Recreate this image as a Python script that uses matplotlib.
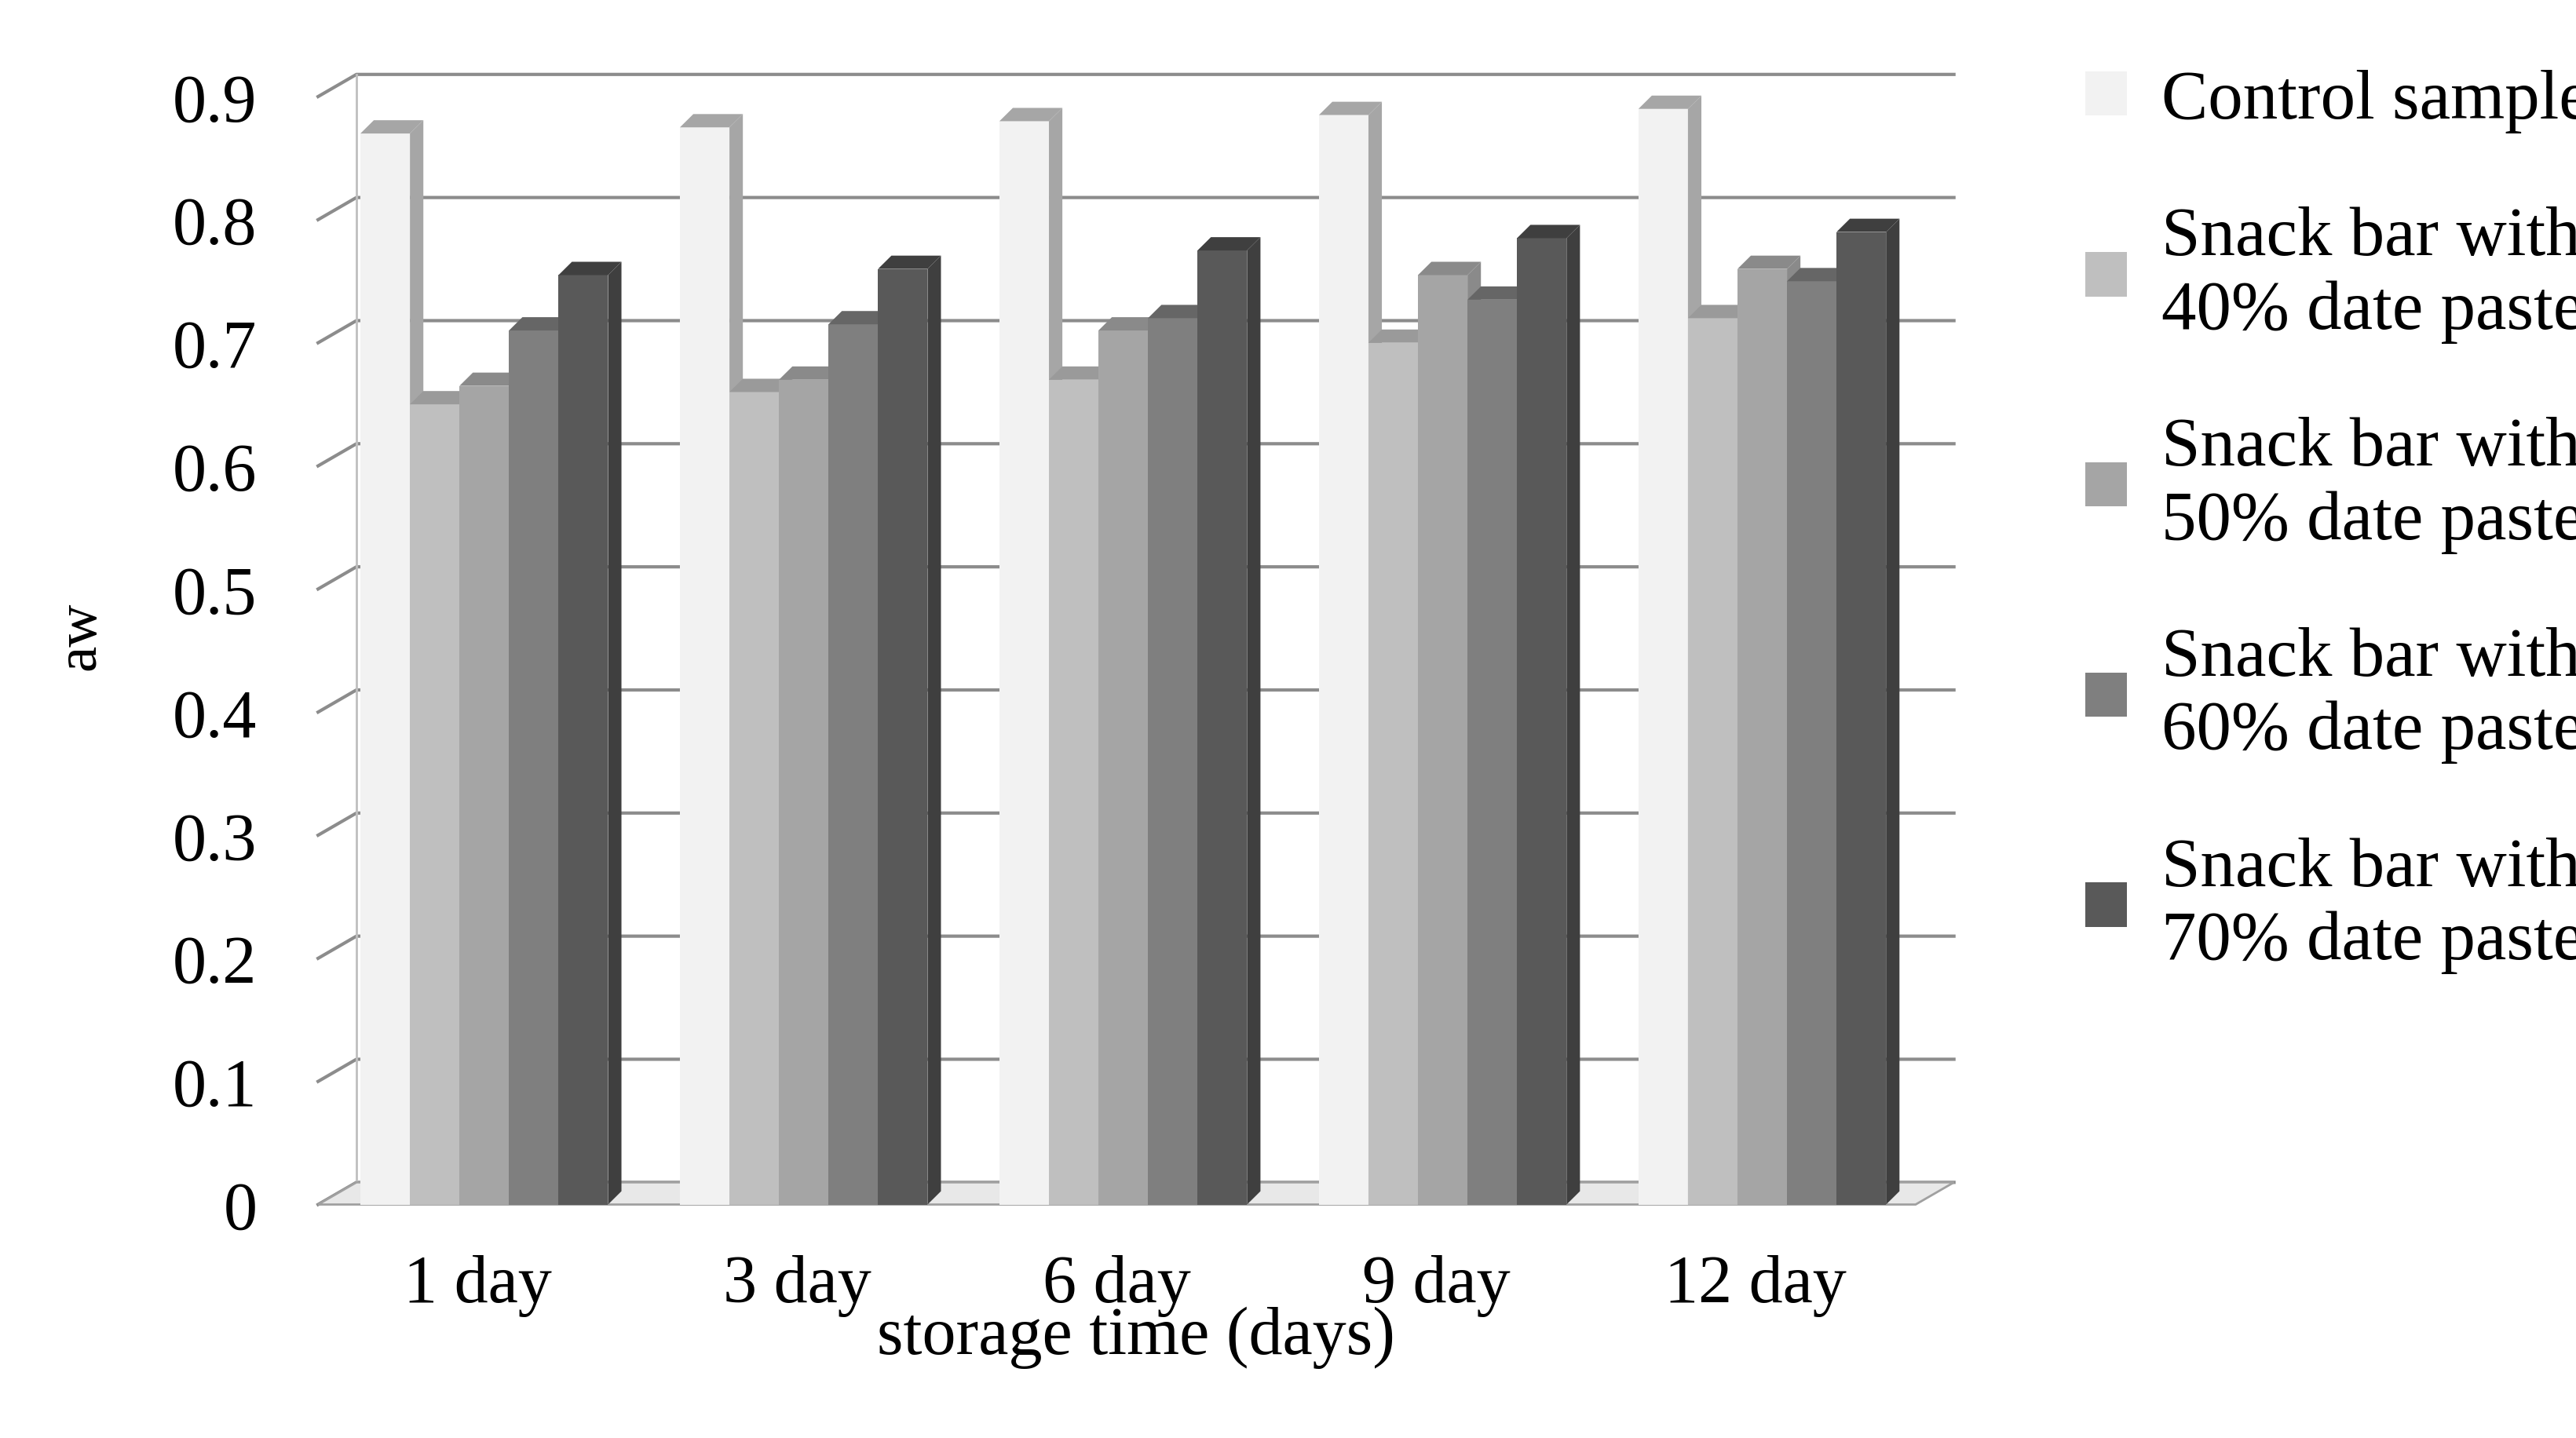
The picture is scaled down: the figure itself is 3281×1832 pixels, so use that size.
import matplotlib
matplotlib.use("Agg")
import matplotlib.pyplot as plt
from matplotlib.patches import Polygon, Rectangle
import numpy as np

categories = ["1 day", "3 day", "6 day", "9 day", "12 day"]
series_names = ["Control sample", "Snack bar with\n40% date paste", "Snack bar with\n50% date paste",
                "Snack bar with\n60% date paste", "Snack bar with\n70% date paste"]
control = [0.87, 0.875, 0.88, 0.885, 0.89]
p40 = [0.65, 0.66, 0.67, 0.70, 0.72]
p50 = [0.665, 0.67, 0.71, 0.755, 0.76]
p60 = [0.71, 0.715, 0.72, 0.735, 0.75]
p70 = [0.755, 0.76, 0.775, 0.785, 0.79]
yticks = [0, 0.1, 0.2, 0.3, 0.4, 0.5, 0.6, 0.7, 0.8, 0.9]
series = [control, p40, p50, p60, p70]
colors = ["#f2f2f2", "#bfbfbf", "#a5a5a5", "#7f7f7f", "#595959"]
sides = ["#a6a6a6", "#9a9a9a", "#8a8a8a", "#666666", "#3f3f3f"]

plt.rcParams['font.family'] = ['Liberation Serif', 'DejaVu Serif']
fig = plt.figure(figsize=(32.81, 18.33), dpi=100)
ax = fig.add_axes([0.121, 0.158, 0.64, 0.80])
dx, dy = 0.12, 0.018
x0, x1 = -0.5, 4.5
for y in yticks:
    ax.plot([x0, x0 + dx, x1 + dx], [y, y + dy, y + dy], color="#8c8c8c", lw=3, zorder=1)
ax.plot([x0 + dx, x0 + dx], [dy, 0.9 + dy], color="#bfbfbf", lw=2, zorder=1)
ax.add_patch(Polygon([(x0, 0), (x0 + dx, dy), (x1 + dx, dy), (x1, 0)], closed=True,
                     facecolor="#e8e8e8", edgecolor="#a0a0a0", lw=2, zorder=1))
w = 0.155
for g in range(len(categories)):
    start = g - 2.5 * w + 0.02
    for s, vals in enumerate(series):
        x = start + s * w
        h = vals[g]
        ax.add_patch(Rectangle((x, 0), w, h, facecolor=colors[s], edgecolor="none", zorder=2))
        ax.add_patch(Polygon([(x + w, 0), (x + w + dx * 0.35, dy * 0.6), (x + w + dx * 0.35, h + dy * 0.6), (x + w, h)],
                             closed=True, facecolor=sides[s], edgecolor="none", zorder=2))
        ax.add_patch(Polygon([(x, h), (x + dx * 0.35, h + dy * 0.6), (x + w + dx * 0.35, h + dy * 0.6), (x + w, h)],
                             closed=True, facecolor=sides[s], edgecolor="none", zorder=2))
ax.set_xlim(x0 - 0.02, x1 + dx + 0.02)
ax.set_ylim(-0.005, 0.93)
for sp in ax.spines.values():
    sp.set_visible(False)
ax.set_yticks(yticks)
ax.set_yticklabels([f"{v:g}" for v in yticks], fontsize=62)
ax.set_xticks(range(len(categories)))
ax.set_xticklabels(categories, fontsize=62)
ax.tick_params(length=0, pad=40)
ax.tick_params(axis='y', pad=50)
ax.set_ylabel("aw", fontsize=54, labelpad=60)
ax.set_xlabel("storage time (days)", fontsize=62, labelpad=-10)
handles = [Rectangle((0, 0), 1, 1, facecolor=c, edgecolor="none") for c in colors]
fig.legend(handles, series_names, loc="upper left", bbox_to_anchor=(0.785, 0.995), frameon=False,
           fontsize=64, labelspacing=1.05, handlelength=0.6, handleheight=0.6, handletextpad=0.5)
fig.savefig("out.png", dpi=100, facecolor="white")
